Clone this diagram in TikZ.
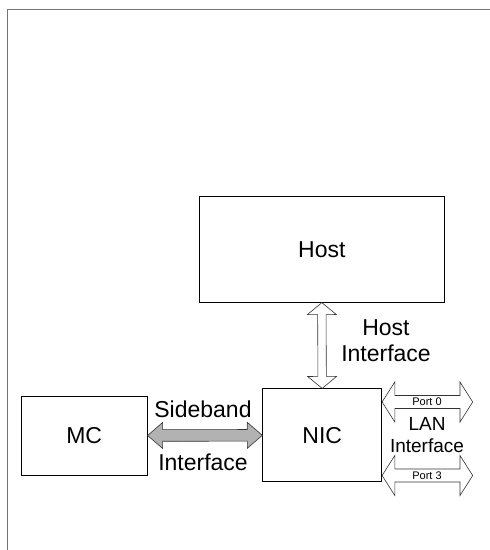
\documentclass[tikz,border=0pt]{standalone}
\usepackage{fontspec}
\setmainfont{Liberation Sans}
\usetikzlibrary{calc,positioning}

% hollow double arrow between two points:
% [fill]{from}{to}{shaft half width}{head half width}{head length}
\newcommand{\fatarrow}[6][white]{%
\coordinate (fa1) at ($(#2)!#6!(#3)$);
\coordinate (fa2) at ($(#3)!#6!(#2)$);
\draw[arrowline,fill=#1] (#2) -- ($(fa1)!#5!90:(#3)$) -- ($(fa1)!#4!90:(#3)$)
  -- ($(fa2)!#4!-90:(#2)$) -- ($(fa2)!#5!-90:(#2)$) -- (#3)
  -- ($(fa2)!#5!90:(#2)$) -- ($(fa2)!#4!90:(#2)$)
  -- ($(fa1)!#4!-90:(#3)$) -- ($(fa1)!#5!-90:(#3)$) -- cycle;
}

\tikzset{
  block/.style={draw, line width=0.8pt, inner sep=0pt, font=\fontsize{23}{27}\selectfont},
  biglabel/.style={align=center, inner sep=0pt, font=\fontsize{23}{26}\selectfont},
  lanlabel/.style={align=center, inner sep=0pt, font=\fontsize{19}{22}\selectfont},
  portlabel/.style={inner sep=0pt, font=\fontsize{11}{13}\selectfont},
  arrowline/.style={draw=black!80, line width=0.6pt},
  frameline/.style={draw=black!55, line width=0.8pt}
}

\begin{document}
\begin{tikzpicture}[x=1pt,y=-1pt]
\useasboundingbox (0,0) rectangle (490,550);
\draw[frameline] (490,9) -- (7,9) -- (7,550);

\node[block, minimum width=245pt, minimum height=106pt] (host) at (321.8,249.2) {Host};
\node[block, minimum width=119pt, minimum height=93pt] (nic) at (322.2,435.3) {NIC};
\node[block, minimum width=126pt, minimum height=79pt] (mc) at (84.2,435.5) {MC};

% host interface
\fatarrow{host.south}{nic.north}{4.2pt}{14.5pt}{12pt}
\node[biglabel] (hostif) at (386,341) {Host\\Interface};

% sideband interface
\fatarrow[black!30]{mc.east}{nic.west}{5.8pt}{13pt}{15pt}
\node[biglabel] (sbtop) at (203,409) {Sideband};
\node[biglabel] (sbbot) at (203,462) {Interface};

% LAN ports
\coordinate (port0end) at (472.7,402);
\coordinate (port3end) at (472.7,475.5);
\fatarrow{nic.east |- port0end}{port0end}{6.5pt}{20pt}{12.7pt}
\fatarrow{nic.east |- port3end}{port3end}{6.5pt}{20pt}{12.7pt}
\node[portlabel] (port0) at (427,402) {Port 0};
\node[portlabel] (port3) at (427,475.5) {Port 3};
\node[lanlabel] (lanif) at (427,435) {LAN\\Interface};
\end{tikzpicture}
\end{document}
